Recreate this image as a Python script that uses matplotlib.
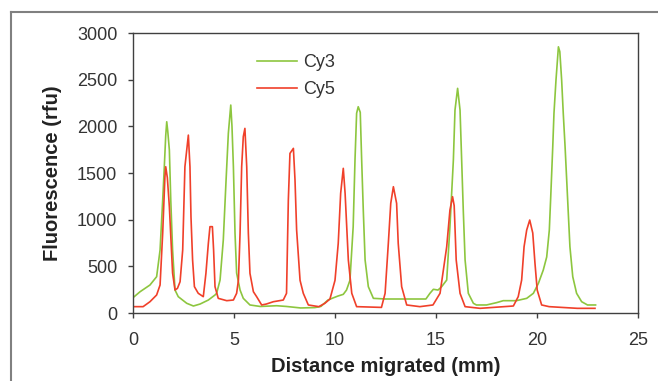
"""
Cy3 / Cy5 fluorescence traces along the migration distance.
Writes out.png (658x381).
"""

import matplotlib
matplotlib.use("Agg")
import matplotlib.pyplot as plt
from matplotlib.lines import Line2D

# ── DATA ──────────────────────────────────────────────────────────────────────
cy3_mm = [0.0, 0.35, 0.84, 1.17, 1.34, 1.47, 1.55, 1.62, 1.67, 1.72, 1.8, 1.87,
          1.96, 2.08, 2.24, 2.66, 2.99, 3.32, 3.73, 4.06, 4.14, 4.31, 4.47, 4.6,
          4.72, 4.84, 4.9, 4.97, 5.05, 5.13, 5.3, 5.46, 5.79, 6.3, 7.11, 7.6,
          8.3, 9.0, 9.3, 9.65, 9.9, 10.15, 10.41, 10.57, 10.74, 10.9, 10.99,
          11.07, 11.15, 11.25, 11.32, 11.4, 11.49, 11.65, 11.9, 12.5, 14.5,
          14.7, 14.87, 15.1, 15.28, 15.53, 15.69, 15.86, 15.94, 16.07, 16.19,
          16.27, 16.35, 16.44, 16.6, 16.85, 17.0, 17.5, 18.0, 18.33, 18.98,
          19.49, 19.82, 20.07, 20.31, 20.48, 20.61, 20.68, 20.78, 20.84, 20.94,
          21.06, 21.13, 21.22, 21.3, 21.39, 21.47, 21.55, 21.63, 21.77, 21.96,
          22.21, 22.5, 22.9]
cy3_rfu = [164, 228, 300, 389, 675, 1210, 1567, 1900, 2049, 1950, 1746, 1210,
           675, 246, 175, 104, 75, 96, 139, 193, 211, 353, 782, 1389,
           1925, 2228, 2000, 1567, 857, 428, 246, 157, 86, 70, 78, 70,
           54, 58, 70, 139, 161, 182, 200, 246, 350, 925, 1639,
           2140, 2210, 2150, 1639, 1103, 568, 282, 157, 150, 150,
           211, 254, 246, 282, 353, 925, 1639, 2174, 2407, 2174,
           1639, 1103, 568, 211, 104, 86, 86, 111, 132, 132,
           157, 211, 318, 460, 600, 889, 1246, 1782, 2139, 2496,
           2852, 2800, 2496, 2139, 1782, 1425, 1067, 710, 389, 211,
           121, 86, 86]

cy5_mm = [0.0, 0.5, 0.84, 1.17, 1.34, 1.47, 1.58, 1.62, 1.7, 1.8, 1.88, 1.96,
          2.08, 2.2, 2.33, 2.46, 2.57, 2.74, 2.82, 2.87, 2.95, 3.04, 3.23, 3.48,
          3.61, 3.73, 3.81, 3.93, 3.99, 4.06, 4.22, 4.64, 4.97, 5.13, 5.22, 5.3,
          5.38, 5.46, 5.54, 5.63, 5.71, 5.79, 5.96, 6.12, 6.37, 6.6, 6.95, 7.44,
          7.6, 7.69, 7.77, 7.94, 8.02, 8.1, 8.27, 8.43, 8.68, 9.2, 9.5, 9.75,
          10.0, 10.16, 10.28, 10.41, 10.5, 10.66, 10.83, 11.07, 12.3, 12.48,
          12.64, 12.76, 12.89, 13.05, 13.13, 13.3, 13.55, 14.2, 14.85, 15.2,
          15.53, 15.69, 15.82, 15.9, 16.0, 16.19, 16.44, 17.18, 18.83, 19.07,
          19.24, 19.36, 19.49, 19.64, 19.79, 19.9, 20.01, 20.23, 20.6, 22.0,
          22.87]
cy5_rfu = [68, 68, 121, 193, 300, 857, 1460, 1567, 1450, 1139, 782, 428,
           246, 264, 335, 675, 1567, 1906, 1567, 1032, 568, 282, 211, 175,
           425, 746, 925, 925, 675, 282, 157, 132, 139, 211, 353, 857,
           1567, 1889, 1978, 1567, 857, 425, 228, 175, 86, 96, 121, 139,
           211, 1210, 1710, 1764, 1425, 889, 350, 211, 86, 68, 104, 150,
           350, 746, 1282, 1550, 1282, 568, 211, 68, 60, 211,
           746, 1175, 1353, 1175, 746, 282, 86, 68, 86, 211,
           710, 1103, 1246, 1150, 568, 211, 68, 50, 75, 175,
           353, 710, 889, 996, 857, 532, 246, 86, 68, 50,
           50]

x_ticks = [0, 5, 10, 15, 20, 25]
y_ticks = [0, 500, 1000, 1500, 2000, 2500, 3000]

# ── STYLE ─────────────────────────────────────────────────────────────────────
CY3_COLOR = "#8DC63F"
CY5_COLOR = "#F0402A"
FRAME     = "#404040"
TEXT      = "#333333"

plt.rcParams["font.family"] = ["Liberation Sans", "DejaVu Sans"]

fig = plt.figure(figsize=(6.58, 3.81), dpi=100)
ax = fig.add_axes([133 / 658, 68 / 381, 505 / 658, 280 / 381])

ax.plot(cy3_mm, cy3_rfu, color=CY3_COLOR, lw=1.2, label="Cy3")
ax.plot(cy5_mm, cy5_rfu, color=CY5_COLOR, lw=1.2, label="Cy5")

ax.set_xlim(0, 25)
ax.set_ylim(0, 3000)
ax.set_xticks(x_ticks)
ax.set_yticks(y_ticks)

ax.tick_params(axis="both", direction="out", length=3.8, width=1.0,
               color=FRAME, labelsize=13, labelcolor=TEXT)
ax.tick_params(axis="y", pad=7.5)
ax.tick_params(axis="x", pad=10)
for side in ax.spines.values():
    side.set_color(FRAME)
    side.set_linewidth(1.0)

ax.set_xlabel("Distance migrated (mm)", fontsize=14.5, fontweight="bold",
              color="#222222", labelpad=6)
ax.set_ylabel("Fluorescence (rfu)", fontsize=14.5, fontweight="bold",
              color="#222222", labelpad=11)

ax.legend(loc="upper left", bbox_to_anchor=(0.213, 0.983), frameon=False,
          fontsize=13, handlelength=2.2, handletextpad=0.35,
          labelspacing=0.55, labelcolor=TEXT)

# grey chart border (only the left and top edges show in the crop)
fig.add_artist(Line2D([11 / 658, 11 / 658], [0, 1 - 12 / 381],
                      transform=fig.transFigure, color="#808080", lw=1.5))
fig.add_artist(Line2D([11 / 658, 1], [1 - 12 / 381, 1 - 12 / 381],
                      transform=fig.transFigure, color="#808080", lw=1.5))

fig.savefig("out.png", dpi=100)
